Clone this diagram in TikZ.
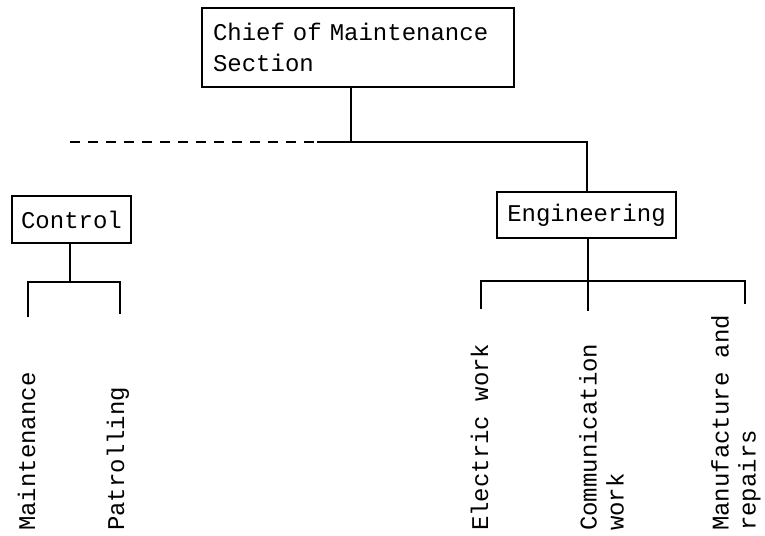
\documentclass[tikz,border=0pt]{standalone}
\usepackage{fontspec}
\setmonofont{Liberation Mono}
\begin{document}
\begin{tikzpicture}[x=1pt,y=-1pt,
  txt/.style={font=\ttfamily\fontsize{24}{31}\selectfont},
  box/.style={draw,line width=1.2pt,txt,inner ysep=0pt},
  leaf/.style={txt,font=\ttfamily\fontsize{24}{27}\selectfont,rotate=90,inner sep=0pt,align=left},
  ln/.style={line width=1.1pt}]
\useasboundingbox (0,0) rectangle (765,535);
% boxes
\node[box,text width=290pt,inner xsep=11pt,minimum height=79pt,align=left] (chief) at (358,47.5) {Chief of Maintenance\\Section};
\node[box,minimum width=119pt,minimum height=47pt] (control) at (71.5,219.5) {Control};
\node[box,minimum width=179pt,minimum height=46pt] (eng) at (586.5,215) {Engineering};
% leaves
\node[leaf,anchor=base west] (maint) at (35,531) {Maintenance};
\node[leaf,anchor=base west] (patrol) at (124,531) {Patrolling};
\node[leaf,anchor=base west] (elec) at (488,531) {Electric work};
\node[leaf,anchor=north west] (comm) at (579,531) {Communication\\work};
\node[leaf,anchor=north west] (manu) at (711,531) {Manufacture and\\repairs};
% junction coordinates
\coordinate (j0) at (351,142);
\coordinate (jL) at (70,142);
\coordinate (jD) at (317,142);
\coordinate (jE) at (587,142);
\coordinate (c0) at (70,282);
\coordinate (c1) at (28,282);
\coordinate (c2) at (120,282);
\coordinate (c1e) at (28,317);
\coordinate (c2e) at (120,314);
\coordinate (e0) at (588,281);
\coordinate (e1) at (481,281);
\coordinate (e3) at (745,281);
\coordinate (e1e) at (481,309);
\coordinate (e2e) at (588,311);
\coordinate (e3e) at (745,304);
% connectors
\draw[ln] (chief.south -| j0) -- (j0);
\draw[ln,dash pattern=on 10pt off 8pt] (jL) -- (jD);
\draw[ln] (jD) -- (jE) -- (eng.north -| jE);
\draw[ln] (control.south -| c0) -- (c0);
\draw[ln] (c1e) -- (c1) -- (c2) -- (c2e);
\draw[ln] (eng.south -| e0) -- (e2e);
\draw[ln] (e1e) -- (e1) -- (e3) -- (e3e);
\end{tikzpicture}
\end{document}
